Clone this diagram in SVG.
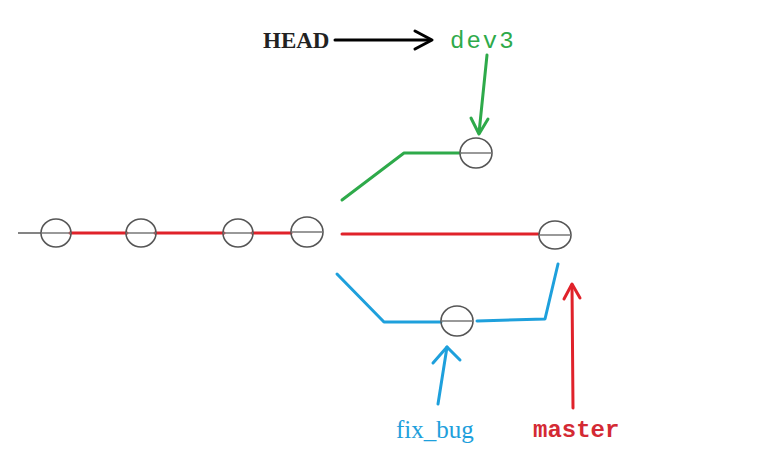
<svg xmlns="http://www.w3.org/2000/svg" width="780" height="462" viewBox="0 0 780 462">
<style>
.c{fill:none;stroke:#555;stroke-width:1.6}
.d{stroke:#777;stroke-width:1.5}
.r{stroke:#e0222a;stroke-width:3;fill:none;stroke-linecap:round;stroke-linejoin:round}
.g{stroke:#2eaa4a;stroke-width:3;fill:none;stroke-linecap:round;stroke-linejoin:round}
.b{stroke:#1ea0dc;stroke-width:3;fill:none;stroke-linecap:round;stroke-linejoin:round}
.k{stroke:#000;stroke-width:3;fill:none;stroke-linecap:round;stroke-linejoin:round}
.t{font-family:"Liberation Serif","DejaVu Serif",serif}
</style>
<rect width="780" height="462" fill="#fff"/>
<g id="connectors">
<line x1="18" y1="233" x2="42" y2="233" stroke="#333" stroke-width="1.2"/>
<line class="r" x1="70" y1="233" x2="127" y2="233"/>
<line class="r" x1="155" y1="233" x2="224" y2="233"/>
<line class="r" x1="252" y1="233" x2="291" y2="233"/>
<line class="r" x1="342" y1="234" x2="538" y2="234"/>
<polyline class="g" points="342,200 404,153 460,153"/>
<polyline class="b" points="337,274 384,322 441,322"/>
<polyline class="b" points="477,321 545,319 558,264"/>
<line class="k" x1="335" y1="40" x2="430" y2="40"/>
<polyline class="k" points="415,31 432,40 415,49"/>
<line class="g" x1="487" y1="55" x2="479" y2="133"/>
<polyline class="g" points="471,118 479,134 488,119"/>
<line class="r" x1="573" y1="408" x2="572" y2="285"/>
<polyline class="r" points="564,299 572,284 580,298"/>
<line class="b" x1="438" y1="404" x2="447" y2="347"/>
<polyline class="b" points="433,363 447,347 460,360"/>
</g>
<g id="c1"><ellipse class="c" cx="56" cy="233" rx="15" ry="14"/><line class="d" x1="41" y1="233" x2="71" y2="233"/></g>
<g id="c2"><ellipse class="c" cx="141" cy="233" rx="15" ry="14"/><line class="d" x1="126" y1="233" x2="156" y2="233"/></g>
<g id="c3"><ellipse class="c" cx="238" cy="233" rx="15" ry="14"/><line class="d" x1="223" y1="233" x2="253" y2="233"/></g>
<g id="c4"><ellipse class="c" cx="307" cy="232" rx="16" ry="15" stroke="#888"/><line class="d" x1="291" y1="232" x2="323" y2="232"/></g>
<g id="dev3node"><ellipse class="c" cx="476" cy="153" rx="16" ry="15"/><line class="d" x1="460" y1="153" x2="492" y2="153"/></g>
<g id="masternode"><ellipse class="c" cx="555" cy="235" rx="16" ry="14"/><line class="d" x1="539" y1="235" x2="571" y2="235"/></g>
<g id="fixnode"><ellipse class="c" cx="457" cy="321" rx="16" ry="15"/><line class="d" x1="441" y1="321" x2="473" y2="321"/></g>
<g id="labels">
<text class="t" x="263" y="48" font-weight="bold" fill="#222" font-size="23">HEAD</text>
<text x="450" y="48" font-family="Liberation Mono,DejaVu Sans Mono,monospace" font-size="24" letter-spacing="2" fill="#2eaa4a">dev3</text>
<text class="t" x="396" y="438" fill="#1ea0dc" font-size="25">fix_bug</text>
<text x="533" y="437" font-family="Liberation Mono,DejaVu Sans Mono,monospace" font-size="24" font-weight="bold" fill="#d42a34">master</text>
</g>
</svg>
